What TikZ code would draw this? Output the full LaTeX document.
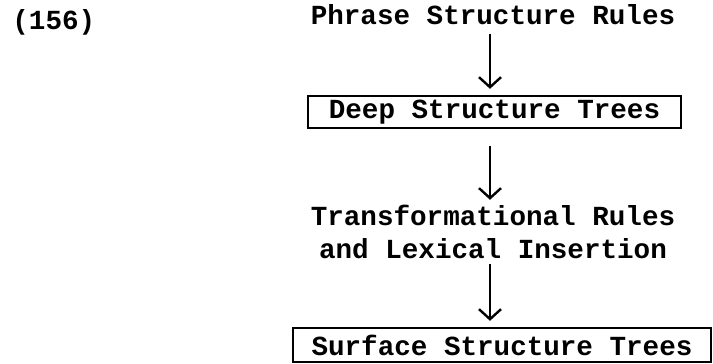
\documentclass[tikz,border=0pt]{standalone}
\usepackage{fontspec}
\setmonofont{Liberation Mono}
\usetikzlibrary{arrows.meta, positioning}

\begin{document}
\begin{tikzpicture}[x=0.5pt, y=-0.5pt, node distance=48.5pt,
    every node/.style={inner sep=0pt, font=\ttfamily\bfseries\fontsize{13.8}{16.5}\selectfont},
    stage/.style={draw, line width=1.2pt, minimum height=16pt},
    flow/.style={-{Straight Barb[length=5pt, width=11pt]}, line width=1.2pt}]
  \useasboundingbox (0,0) rectangle (713,364);
  \node[anchor=west] (N) at (12,22) {(156)};
  \node (P) at (493,15) {Phrase Structure Rules};
  \node (D) [stage, minimum width=186.5pt, below of=P, xshift=0.75pt] {Deep Structure Trees};
  \node (T) [align=center, below of=D, node distance=60pt, xshift=-0.75pt] {Transformational Rules\\and Lexical Insertion};
  \node (S) [stage, minimum width=209pt, minimum height=17pt, below of=T, node distance=56.5pt, xshift=4.5pt] {Surface Structure Trees};
  \draw[flow, shorten <=4pt, shorten >=3pt] ([xshift=-1.5pt]P.south) -- ([xshift=-1.5pt]P.south |- D.north);
  \draw[flow, shorten <=8.5pt, shorten >=2.5pt] ([xshift=-1.5pt]P.south |- D.south) -- ([xshift=-1.5pt]P.south |- T.north);
  \draw[flow, shorten <=2.5pt, shorten >=3pt] ([xshift=-1.5pt]P.south |- T.south) -- ([xshift=-1.5pt]P.south |- S.north);
\end{tikzpicture}
\end{document}
